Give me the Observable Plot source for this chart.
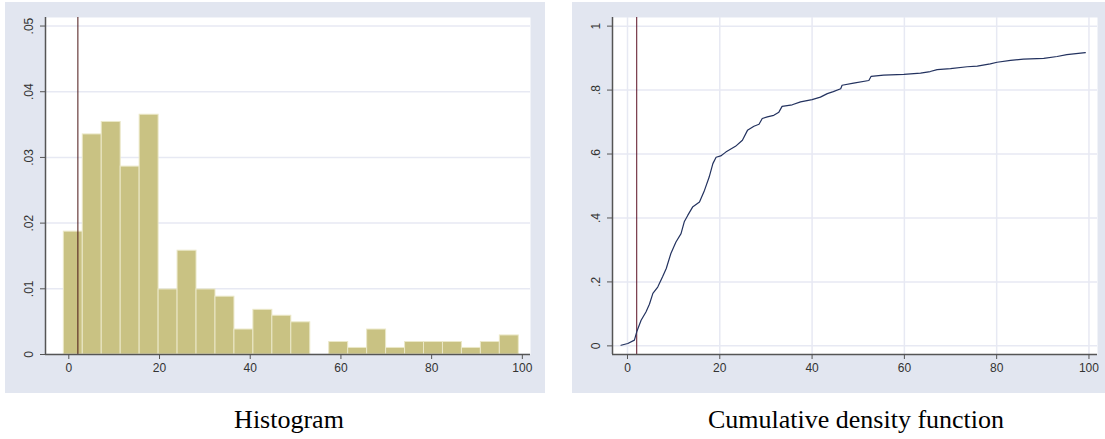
<!DOCTYPE html>
<html><head><meta charset="utf-8">
<script src="https://cdn.jsdelivr.net/npm/d3@7"></script>
<script src="https://cdn.jsdelivr.net/npm/@observablehq/plot@0.6"></script>
<style>
html,body{margin:0;padding:0;background:#fff;width:1105px;height:439px;overflow:hidden;}
#wrap{position:relative;width:1105px;height:439px;}
.panel{position:absolute;top:2px;}
.panel svg{display:block;}
.cap{position:absolute;top:407px;font-family:"Liberation Serif",serif;font-size:26px;line-height:26px;color:#000;transform:translateX(-50%);white-space:nowrap;}
</style></head><body><div id="wrap"></div>
<script>
// Histogram data (density per bin)
const binEdges = [-1.1, 3.08, 7.26, 11.44, 15.62, 19.8, 23.98, 28.16, 32.34, 36.52, 40.7, 44.88, 49.06, 53.24, 57.42, 61.6, 65.78, 69.96, 74.14, 78.32, 82.5, 86.68, 90.86, 95.04, 99.22];
const density = [0.0187, 0.0335, 0.0354, 0.0286, 0.0365, 0.0099, 0.0158, 0.0099, 0.0088, 0.0038, 0.0068, 0.0059, 0.0049, 0, 0.0019, 0.0010, 0.0038, 0.0010, 0.0019, 0.0019, 0.0019, 0.0010, 0.0019, 0.0029];
// CDF data
const cdfX = [-1.4, 0.07, 1.5, 2.0, 2.95, 4.0, 4.75, 5.5, 6.55, 7.6, 8.4, 9.4, 10.5, 11.6, 12.3, 13.05, 14.1, 15.6, 16.7, 17.7, 18.5, 19.2, 20.2, 21.3, 23.4, 24.9, 26.0, 27.4, 28.5, 29.2, 30.3, 31.7, 32.8, 33.5, 35.7, 37.5, 40.0, 41.8, 43.3, 44.6, 46.2, 46.5, 49.0, 52.3, 52.8, 55.5, 59.9, 63.5, 65.6, 67.1, 70.0, 73.6, 75.8, 78.6, 80.1, 83.0, 85.8, 90.2, 93.1, 95.2, 99.2];
const cdfY = [0.002, 0.0075, 0.018, 0.044, 0.08, 0.106, 0.13, 0.164, 0.184, 0.216, 0.242, 0.289, 0.325, 0.351, 0.388, 0.408, 0.434, 0.45, 0.487, 0.528, 0.57, 0.59, 0.594, 0.606, 0.624, 0.643, 0.674, 0.687, 0.693, 0.711, 0.716, 0.721, 0.731, 0.749, 0.754, 0.763, 0.770, 0.778, 0.789, 0.795, 0.804, 0.815, 0.822, 0.830, 0.843, 0.847, 0.849, 0.853, 0.858, 0.864, 0.867, 0.873, 0.875, 0.882, 0.887, 0.893, 0.897, 0.899, 0.905, 0.911, 0.917];
const refLine = 2;
// Ticks
const xTicks = [0, 20, 40, 60, 80, 100];
const histTicksY = [0, 0.01, 0.02, 0.03, 0.04, 0.05];
const histTickLabelsY = ["0", ".01", ".02", ".03", ".04", ".05"];
const cdfTicksY = [0, 0.2, 0.4, 0.6, 0.8, 1];
const cdfTickLabelsY = ["0", ".2", ".4", ".6", ".8", "1"];
const captions = ["Histogram", "Cumulative density function"];

const BG = "#e2e6f0", GRID = "#e7e9f3", AXIS = "#555555", TXT = "#333333";
const baseStyle = {background: BG, fontFamily: "'Liberation Sans', Arial, sans-serif", fontSize: "12px", color: TXT, overflow: "visible"};

const bins = density.map((d, i) => ({x1: binEdges[i], x2: binEdges[i + 1], y: d}));
const histX = [-5.14, 101.8], histY = [0, 0.0513];

const left = Plot.plot({
  width: 540, height: 391, marginLeft: 40, marginRight: 15, marginTop: 15, marginBottom: 39,
  style: baseStyle,
  x: {domain: histX}, y: {domain: histY},
  marks: [
    Plot.frame({fill: "white", stroke: null}),
    Plot.ruleY(histTicksY, {y: d => d, stroke: GRID, strokeWidth: 1.5}),
    Plot.rectY(bins, {x1: "x1", x2: "x2", y: "y", fill: "#c9c283", stroke: "#ebe8c8", strokeWidth: 1}),
    Plot.ruleX([refLine], {stroke: "#4a1515", strokeWidth: 1}),
    Plot.ruleX([histX[0]], {stroke: AXIS, strokeWidth: 1.5}),
    Plot.ruleY([histY[0]], {stroke: AXIS, strokeWidth: 1.5}),
    Plot.axisX({ticks: xTicks, tickSize: 5, tickPadding: 4, tickFormat: d => String(d), label: null, stroke: AXIS}),
    Plot.axisY({ticks: histTicksY, tickSize: 5, tickFormat: () => "", label: null, stroke: AXIS}),
    Plot.text(histTicksY, {y: d => d, frameAnchor: "left", text: (d, i) => histTickLabelsY[i], rotate: -90, dx: -16, textAnchor: "middle", lineAnchor: "middle", fill: TXT})
  ]
});

const cdf = cdfX.map((x, i) => ({x, y: cdfY[i]}));
const cdfXd = [-3.25, 101.85], cdfYd = [-0.027, 1.027];
const right = Plot.plot({
  width: 533, height: 391, marginLeft: 40, marginRight: 8, marginTop: 15, marginBottom: 39,
  style: baseStyle,
  x: {domain: cdfXd}, y: {domain: cdfYd},
  marks: [
    Plot.frame({fill: "white", stroke: null}),
    Plot.ruleY(cdfTicksY, {y: d => d, stroke: GRID, strokeWidth: 1.5}),
    Plot.ruleX(xTicks, {x: d => d, stroke: GRID, strokeWidth: 1.5}),
    Plot.ruleX([refLine], {stroke: "#5a0f22", strokeWidth: 1}),
    Plot.line(cdf, {x: "x", y: "y", stroke: "#23325f", strokeWidth: 1.2}),
    Plot.ruleX([cdfXd[0]], {stroke: AXIS, strokeWidth: 1.5}),
    Plot.ruleY([cdfYd[0]], {stroke: AXIS, strokeWidth: 1.5}),
    Plot.axisX({ticks: xTicks, tickSize: 5, tickPadding: 4, tickFormat: d => String(d), label: null, stroke: AXIS}),
    Plot.axisY({ticks: cdfTicksY, tickSize: 5, tickFormat: () => "", label: null, stroke: AXIS}),
    Plot.text(cdfTicksY, {y: d => d, frameAnchor: "left", text: (d, i) => cdfTickLabelsY[i], rotate: -90, dx: -16, textAnchor: "middle", lineAnchor: "middle", fill: TXT})
  ]
});

const wrap = document.getElementById("wrap");
function addPanel(svg, x) {
  const d = document.createElement("div");
  d.className = "panel"; d.style.left = x + "px";
  d.appendChild(svg); wrap.appendChild(d);
}
addPanel(left, 5);
addPanel(right, 572);
function addCap(t, cx) {
  const d = document.createElement("div");
  d.className = "cap"; d.style.left = cx + "px"; d.textContent = t;
  wrap.appendChild(d);
}
addCap(captions[0], 289);
addCap(captions[1], 856);
</script></body></html>
